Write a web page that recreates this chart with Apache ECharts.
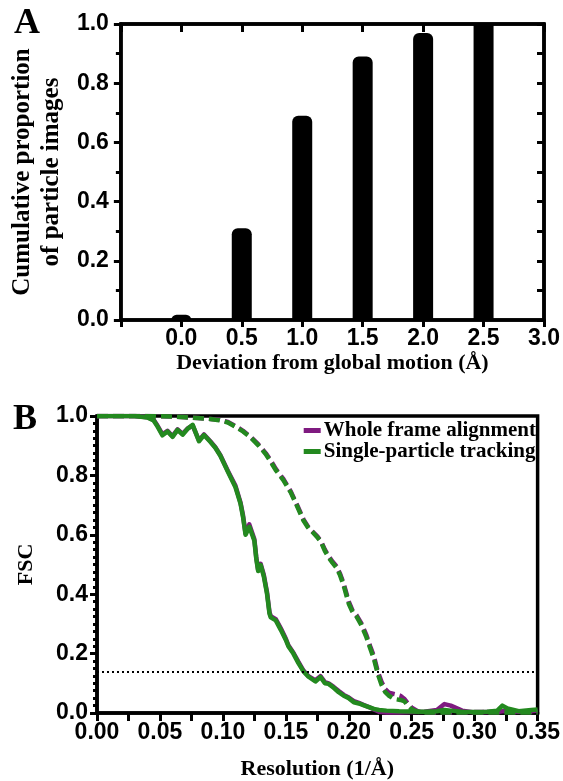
<!DOCTYPE html>
<html>
<head>
<meta charset="utf-8">
<script src="https://cdn.jsdelivr.net/npm/echarts@6/dist/echarts.min.js"></script>
<style>
html,body{margin:0;padding:0;background:#fff;}
#chart{width:563px;height:781px;}
</style>
</head>
<body>
<div id="chart"></div>
<script>
// ---------- Panel A data ----------
const deviationCategories = [0.0, 0.5, 1.0, 1.5, 2.0, 2.5];
const cumulativeProportion = [0.018, 0.31, 0.69, 0.89, 0.97, 1.0];
const panelAXRange = [-0.5, 3.0];

// ---------- Panel B data ----------
const leftRes = [0, 0.010, 0.020, 0.030, 0.040, 0.045, 0.048, 0.052, 0.056, 0.060,
  0.064, 0.068, 0.072, 0.076, 0.081, 0.085, 0.090, 0.094, 0.098, 0.104,
  0.110, 0.114, 0.116, 0.118, 0.121, 0.125, 0.1265, 0.128, 0.130, 0.1325,
  0.135, 0.137, 0.138, 0.142, 0.146, 0.150, 0.152, 0.156, 0.160, 0.164,
  0.168, 0.1735, 0.1775, 0.181, 0.184, 0.188, 0.192, 0.196, 0.200, 0.204,
  0.208, 0.212, 0.216, 0.220, 0.224, 0.230, 0.240, 0.250, 0.260, 0.270,
  0.276, 0.281, 0.290, 0.300, 0.310, 0.318, 0.322, 0.326, 0.335, 0.345, 0.350];
const wholeFrameLeft = [1, 1, 1, 1, 0.996, 0.987, 0.968, 0.938, 0.950, 0.932,
  0.955, 0.940, 0.958, 0.968, 0.918, 0.938, 0.915, 0.895, 0.868, 0.815,
  0.765, 0.708, 0.665, 0.605, 0.635, 0.585, 0.525, 0.482, 0.502, 0.465,
  0.408, 0.340, 0.326, 0.316, 0.285, 0.250, 0.228, 0.203, 0.172, 0.143,
  0.124, 0.110, 0.124, 0.104, 0.100, 0.088, 0.074, 0.061, 0.052, 0.040,
  0.034, 0.027, 0.020, 0.012, 0.004, 0.002, 0.002, 0.003, 0.004, 0.010,
  0.030, 0.025, 0.008, 0.002, 0.003, 0.003, 0.006, 0.006, 0.004, 0.006, 0.008];
const trackingLeft = [1, 1, 1, 1, 0.995, 0.985, 0.965, 0.935, 0.948, 0.930,
  0.953, 0.937, 0.957, 0.970, 0.915, 0.936, 0.913, 0.893, 0.866, 0.812,
  0.760, 0.705, 0.660, 0.600, 0.627, 0.580, 0.520, 0.478, 0.498, 0.460,
  0.403, 0.335, 0.322, 0.312, 0.280, 0.246, 0.225, 0.200, 0.168, 0.140,
  0.122, 0.106, 0.121, 0.100, 0.098, 0.085, 0.070, 0.058, 0.050, 0.036,
  0.032, 0.026, 0.020, 0.014, 0.010, 0.008, 0.006, 0.005, 0.004, 0.006,
  0.010, 0.008, 0.004, 0.003, 0.004, 0.008, 0.025, 0.015, 0.006, 0.010, 0.012];

const rightRes = [0, 0.020, 0.040, 0.060, 0.070, 0.080, 0.090, 0.097, 0.104, 0.110,
  0.116, 0.122, 0.128, 0.134, 0.138, 0.142, 0.148, 0.154, 0.159, 0.164,
  0.168, 0.171, 0.175, 0.178, 0.181, 0.184, 0.187, 0.190, 0.193, 0.196,
  0.200, 0.203, 0.206, 0.210, 0.214, 0.217, 0.220, 0.223, 0.226, 0.229,
  0.232, 0.235, 0.238, 0.241, 0.244, 0.247, 0.250, 0.255, 0.260, 0.270,
  0.280, 0.290, 0.300, 0.310, 0.320, 0.330, 0.340, 0.350];
const wholeFrameRight = [1, 1, 1, 0.998, 0.996, 0.993, 0.990, 0.987, 0.980, 0.966,
  0.950, 0.930, 0.905, 0.875, 0.850, 0.822, 0.788, 0.745, 0.700, 0.652,
  0.625, 0.612, 0.595, 0.578, 0.550, 0.528, 0.510, 0.495, 0.470, 0.435,
  0.375, 0.345, 0.330, 0.302, 0.262, 0.225, 0.190, 0.140, 0.105, 0.080,
  0.068, 0.065, 0.062, 0.058, 0.048, 0.032, 0.018, 0.005, 0.002, 0.002,
  0.002, 0.002, 0.003, 0.003, 0.003, 0.003, 0.003, 0.003];
const trackingRight = [1, 1, 1, 0.998, 0.996, 0.993, 0.990, 0.986, 0.978, 0.964,
  0.948, 0.928, 0.902, 0.872, 0.846, 0.818, 0.784, 0.742, 0.696, 0.648,
  0.622, 0.610, 0.592, 0.575, 0.546, 0.524, 0.506, 0.490, 0.465, 0.428,
  0.368, 0.340, 0.326, 0.296, 0.255, 0.218, 0.182, 0.132, 0.095, 0.070,
  0.058, 0.050, 0.046, 0.044, 0.040, 0.025, 0.012, 0.004, 0.002, 0.002,
  0.002, 0.002, 0.002, 0.002, 0.002, 0.002, 0.002, 0.002];
const fscThreshold = 0.143;
const seriesNames = ['Whole frame alignment', 'Single-particle tracking'];

// ---------- styling ----------
const PURPLE = '#7f1a80';
const GREEN = '#23891f';
const SANS = '"Liberation Sans", Arial, sans-serif';
const SERIF = '"Liberation Serif", "Times New Roman", serif';
const tickLabel = {fontFamily: SANS, fontWeight: 'bold', fontSize: 23, color: '#000'};
const titleFont = {fontFamily: SERIF, fontWeight: 'bold', fontSize: 22, color: '#000'};
const AXW = 3.5;

const pair = (xs, ys) => xs.map((x, i) => [x, ys[i]]);

const chart = echarts.init(document.getElementById('chart'), null, {renderer: 'canvas'});

const option = {
  animation: false,
  backgroundColor: '#fff',
  title: [
    {text: 'A', left: 14, top: 6, padding: 0, textStyle: {fontFamily: SERIF, fontWeight: 'bold', fontSize: 36, color: '#000'}},
    {text: 'B', left: 13, top: 402, padding: 0, textStyle: {fontFamily: SERIF, fontWeight: 'bold', fontSize: 36, color: '#000'}}
  ],
  legend: {
    data: seriesNames,
    orient: 'vertical',
    right: 27,
    top: 420,
    itemGap: 0,
    itemWidth: 17,
    itemHeight: 5,
    icon: 'rect',
    selectedMode: false,
    padding: 0,
    textStyle: {fontFamily: SERIF, fontWeight: 'bold', fontSize: 21, color: '#000', padding: [0, 0, 0, -2]}
  },
  grid: [
    {left: 104, top: 24, width: 442, height: 296, show: true, borderColor: '#000', borderWidth: AXW},
    {left: 97, top: 416, width: 443, height: 297, show: true, borderColor: '#000', borderWidth: AXW}
  ],
  xAxis: [
    {
      gridIndex: 0, type: 'value', position: 'bottom',
      min: panelAXRange[0], max: panelAXRange[1], interval: 0.5,
      name: 'Deviation from global motion (Å)', nameLocation: 'middle', nameGap: 32,
      nameTextStyle: titleFont,
      axisLine: {show: true, onZero: false, lineStyle: {color: '#000', width: AXW}},
      axisTick: {show: true, inside: false, length: 7, lineStyle: {width: 3, color: '#000'}},
      axisLabel: Object.assign({margin: 7, formatter: v => v < 0 ? '' : v.toFixed(1)}, tickLabel),
      splitLine: {show: false}
    },
    {
      gridIndex: 0, type: 'value', position: 'top',
      min: panelAXRange[0], max: panelAXRange[1], interval: 0.5,
      axisLine: {show: true, onZero: false, lineStyle: {color: '#000', width: AXW}},
      axisTick: {show: true, inside: true, length: 8, lineStyle: {width: 3, color: '#000'}},
      axisLabel: {show: false},
      splitLine: {show: false}
    },
    {
      gridIndex: 1, type: 'value', position: 'bottom',
      min: 0, max: 0.35, interval: 0.05,
      name: 'Resolution (1/Å)', nameLocation: 'middle', nameGap: 45,
      nameTextStyle: titleFont,
      axisLine: {show: true, onZero: false, lineStyle: {color: '#000', width: AXW}},
      axisTick: {show: true, inside: false, length: 8, lineStyle: {width: 3, color: '#000'}},
      minorTick: {show: true, splitNumber: 2, length: 8, lineStyle: {width: 3, color: '#000'}},
      axisLabel: Object.assign({margin: 8, formatter: v => v.toFixed(2)}, tickLabel),
      splitLine: {show: false}
    }
  ],
  yAxis: [
    {
      gridIndex: 0, type: 'value', position: 'left',
      min: 0, max: 1, interval: 0.2,
      name: 'Cumulative proportion\nof particle images', nameLocation: 'middle', nameGap: 51,
      nameTextStyle: Object.assign({}, titleFont, {fontSize: 25, lineHeight: 29}),
      axisLine: {show: true, onZero: false, lineStyle: {color: '#000', width: AXW}},
      axisTick: {show: true, inside: false, length: 7, lineStyle: {width: 3, color: '#000'}},
      minorTick: {show: true, splitNumber: 2, length: 5, lineStyle: {width: 3, color: '#000'}},
      axisLabel: Object.assign({margin: 12, formatter: v => v.toFixed(1)}, tickLabel),
      splitLine: {show: false}
    },
    {
      gridIndex: 0, type: 'value', position: 'right',
      min: 0, max: 1, interval: 0.1,
      axisLine: {show: true, onZero: false, lineStyle: {color: '#000', width: AXW}},
      axisTick: {show: true, inside: true, length: 7, lineStyle: {width: 3, color: '#000'}},
      axisLabel: {show: false},
      splitLine: {show: false}
    },
    {
      gridIndex: 1, type: 'value', position: 'left',
      min: 0, max: 1, interval: 0.2,
      name: 'FSC', nameLocation: 'middle', nameGap: 60,
      nameTextStyle: titleFont,
      axisLine: {show: true, onZero: false, lineStyle: {color: '#000', width: AXW}},
      axisTick: {show: true, inside: false, length: 7, lineStyle: {width: 3, color: '#000'}},
      minorTick: {show: true, splitNumber: 8, length: 4, lineStyle: {width: 3, color: '#000'}},
      axisLabel: Object.assign({margin: 9, formatter: v => v.toFixed(1)}, tickLabel),
      splitLine: {show: false}
    }
  ],
  series: [
    {
      type: 'bar', xAxisIndex: 0, yAxisIndex: 0,
      barWidth: 20,
      data: deviationCategories.map((x, i) => ({
        value: [x, cumulativeProportion[i]],
        itemStyle: {borderRadius: cumulativeProportion[i] >= 1 ? 0 : [6, 6, 0, 0]}
      })),
      itemStyle: {color: '#000'},
      z: 1
    },
    {
      name: seriesNames[0], type: 'line', xAxisIndex: 2, yAxisIndex: 2,
      data: pair(leftRes, wholeFrameLeft), showSymbol: false, symbol: 'none',
      itemStyle: {color: PURPLE},
      lineStyle: {color: PURPLE, width: 4.5, join: 'round'}, z: 3
    },
    {
      name: seriesNames[0], type: 'line', xAxisIndex: 2, yAxisIndex: 2,
      data: pair(rightRes, wholeFrameRight), showSymbol: false, symbol: 'none',
      itemStyle: {color: PURPLE},
      lineStyle: {color: PURPLE, width: 4.5, type: [11, 5], cap: 'butt'}, z: 3,
      markLine: {
        silent: true, symbol: 'none', label: {show: false},
        lineStyle: {color: '#000', type: [2, 3], width: 2},
        data: [{yAxis: fscThreshold}]
      }
    },
    {
      name: seriesNames[1], type: 'line', xAxisIndex: 2, yAxisIndex: 2,
      data: pair(leftRes, trackingLeft), showSymbol: false, symbol: 'none',
      itemStyle: {color: GREEN},
      lineStyle: {color: GREEN, width: 4.5, join: 'round'}, z: 4
    },
    {
      name: seriesNames[1], type: 'line', xAxisIndex: 2, yAxisIndex: 2,
      data: pair(rightRes, trackingRight), showSymbol: false, symbol: 'none',
      itemStyle: {color: GREEN},
      lineStyle: {color: GREEN, width: 4.5, type: [11, 5], cap: 'butt'}, z: 4
    }
  ]
};
chart.setOption(option);
</script>
</body>
</html>
